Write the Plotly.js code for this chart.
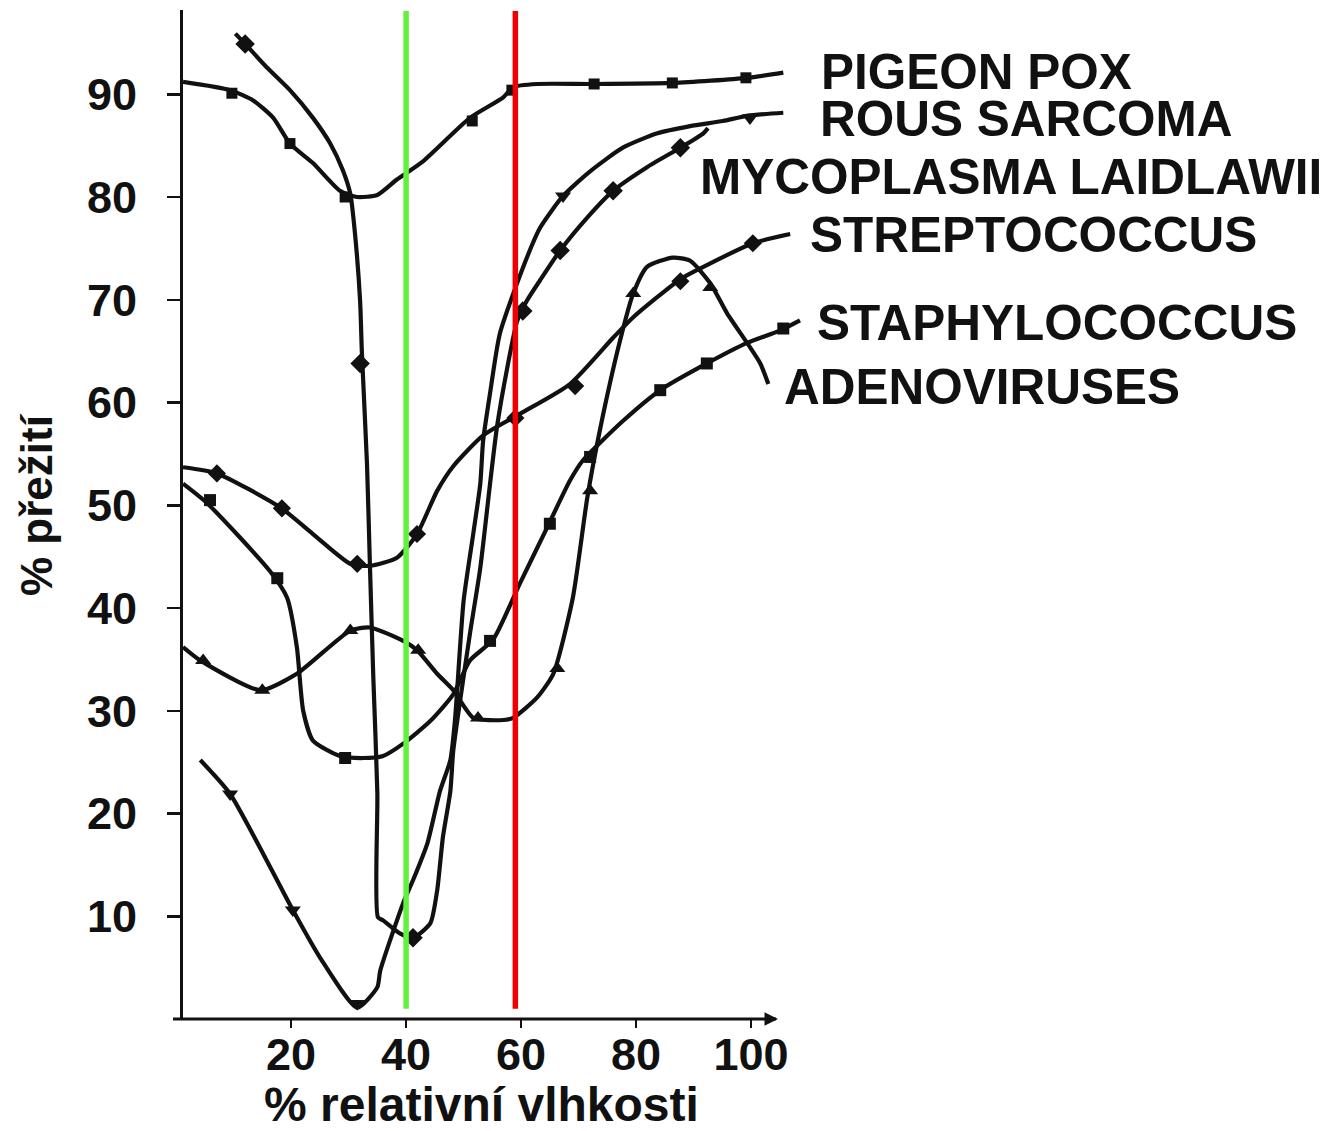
<!DOCTYPE html>
<html>
<head>
<meta charset="utf-8">
<script src="https://cdn.plot.ly/plotly-3.0.1.min.js"></script>
<style>
  html, body { margin: 0; padding: 0; background: #ffffff; }
  #chart { width: 1323px; height: 1131px; }
</style>
</head>
<body>
<div id="chart"></div>
<script>
// ---- data (x = % relative humidity, y = % survival) ----
const pigeonX = [1.2, 9.4, 13.4, 16.9, 19.8, 23.8, 28.5, 31.5, 35, 38.4, 43, 51.1, 56.9, 58.6, 62.8, 72.5, 86.4, 99.3, 105.6];
const pigeonY = [91.2, 90.4, 89.4, 87.7, 85.2, 83.3, 80.6, 80, 80.2, 81.7, 83.5, 87.7, 89.7, 90.7, 91.0, 91.0, 91.1, 91.6, 92.1];
const pigeonMX = [9.7, 19.8, 29.4, 51.5, 58.4, 72.7, 86.3, 99.1];
const pigeonMY = [90.1, 85.2, 80, 87.4, 90.4, 91.0, 91.1, 91.6];

const mycoX = [10.3, 12, 15.8, 19.8, 23.8, 26.8, 29, 30.3, 31.1, 32, 32.3, 33.2, 33.7, 34.3, 35, 35.1, 36, 39, 41.2, 44.2, 45.4, 46.4, 47.7, 48.2, 49.4, 51.1, 52.9, 54.6, 55.8, 57.6, 59.3, 61, 63.3, 66.8, 71.5, 76, 81.9, 87.7, 91.7, 92.5];
const mycoY = [95.9, 94.9, 92.6, 90.4, 87.7, 85.2, 82.6, 80.3, 76.5, 69.9, 65, 54, 44.3, 33.2, 22, 9.9, 9.6, 8.3, 7.9, 9.3, 12.5, 17.7, 22.2, 26.1, 31, 37.5, 43.9, 52.1, 57.6, 63.4, 67.9, 69.9, 71.9, 74.8, 78, 80.6, 82.9, 84.8, 86.2, 86.7];
const mycoMX = [12, 32, 41.2, 60.3, 66.8, 76, 87.7];
const mycoMY = [94.9, 63.8, 7.9, 68.9, 74.8, 80.6, 84.8];

const rousX = [4.2, 9.4, 20.3, 25, 31.5, 35, 35.5, 39.5, 41.2, 43.7, 45.9, 47.7, 48.5, 50, 51.7, 52.9, 53.4, 54.6, 56.3, 60.3, 63.3, 67.3, 72, 77.7, 83.7, 89.4, 95.1, 99.3, 105.6];
const rousY = [25.2, 21.9, 10.6, 6.0, 1.1, 3.1, 4.7, 11.3, 13.5, 17.1, 22.2, 25.2, 29.1, 40.7, 47.3, 52.1, 56.3, 60.9, 66.7, 73.1, 77.0, 80.1, 82.5, 84.8, 86.2, 86.9, 87.4, 87.9, 88.2];
const rousMX = [9.4, 20.3, 31.5, 67.3, 99.8];
const rousMY = [21.9, 10.6, 1.5, 80.1, 87.7];

const strepX = [1.2, 7.1, 18.1, 23.8, 30.3, 33.7, 38.4, 41.9, 45.4, 48.2, 53.4, 59.8, 68.5, 76, 79.5, 87.7, 91.7, 100.3, 106.8];
const strepY = [53.7, 53.1, 49.8, 47.2, 44.3, 44.1, 44.9, 47.2, 51.4, 53.8, 56.8, 58.9, 61.8, 66.3, 68.3, 72, 73.2, 75.5, 76.4];
const strepMX = [7.1, 18.4, 31.5, 41.9, 59, 69.4, 87.7, 100.3];
const strepMY = [53.1, 49.7, 44.3, 47.2, 58.5, 61.6, 71.8, 75.5];

const staphX = [1.2, 5.4, 16.3, 19.3, 21, 22.1, 23.8, 28.5, 32.5, 36, 39.5, 44.2, 48.2, 51.1, 55.1, 59.8, 64.5, 68.5, 70.8, 77.7, 84.2, 92.3, 99.3, 105, 108.5];
const staphY = [52.1, 50.2, 43.6, 41, 36.2, 30, 27.1, 25.6, 25.4, 25.6, 26.8, 29, 31.6, 34.9, 36.9, 42.4, 47.8, 52.4, 54.4, 58.2, 61.2, 63.8, 65.8, 67, 68];
const staphMX = [5.9, 17.6, 29.4, 54.6, 65, 72, 84.2, 92.3, 105.6];
const staphMY = [50.5, 42.9, 25.4, 36.8, 48.2, 54.7, 61.2, 63.8, 67.2];

const adenoX = [1.2, 4.2, 14.6, 21, 30.3, 33.7, 39.5, 41.9, 45.4, 48.2, 51.7, 56.9, 58.6, 62.8, 65.6, 69, 71.5, 73.7, 77.2, 79.5, 81.9, 86.4, 89.4, 92.9, 95.8, 99.3, 101.6, 103];
const adenoY = [36.2, 34.9, 32, 33.6, 37.8, 38.1, 36.8, 35.9, 33.6, 32, 29.3, 29.1, 29.3, 31.3, 33.6, 41, 50.7, 57.3, 66, 70.6, 73.2, 74.1, 73.8, 71.6, 68.7, 65.8, 63.8, 61.8];
const adenoMX = [4.7, 15, 30.3, 42.1, 52.5, 66.3, 72, 79.5, 92.9];
const adenoMY = [34.9, 32, 37.8, 35.9, 29.3, 34.1, 51.4, 70.6, 71.2];

const xTickVals = [20, 40, 60, 80, 100];
const yTickVals = [10, 20, 30, 40, 50, 60, 70, 80, 90];
const greenLineX = 40;
const redLineX = 59;
const seriesLabels = ["PIGEON POX", "ROUS SARCOMA", "MYCOPLASMA LAIDLAWII", "STREPTOCOCCUS", "STAPHYLOCOCCUS", "ADENOVIRUSES"];
const xTitle = "% relativní vlhkosti";
const yTitle = "% přežití";

// ---- layout geometry (pixels of the 1323x1131 page) ----
const W = 1323, H = 1131;
const PL = 183, PR = 810, PT = 10, PB = 1019;   // plot area edges
const xAt0 = 1.2, xPerPx = 1 / 5.75;            // x value at the left edge, units per px
const yPerPx = 1 / 10.275;
const xRange = [xAt0, xAt0 + (PR - PL) * xPerPx];
const yRange = [0, (PB - PT) * yPerPx];
const px2pX = px => (px - PL) / (PR - PL);
const px2pY = py => (PB - py) / (PB - PT);

const INK = '#111111';
const FONT = '"Liberation Sans", Arial, Helvetica, sans-serif';

function curve(x, y, name) {
  return { type: 'scatter', mode: 'lines', x: x, y: y, name: name,
           line: { color: INK, width: 4.2, shape: 'spline', smoothing: 0.6 },
           hoverinfo: 'skip', showlegend: false };
}
function marks(x, y, symbol, size) {
  return { type: 'scatter', mode: 'markers', x: x, y: y,
           marker: { color: INK, symbol: symbol, size: size, line: { width: 0 } },
           cliponaxis: false, hoverinfo: 'skip', showlegend: false };
}

const data = [
  curve(pigeonX, pigeonY, seriesLabels[0]),
  curve(rousX, rousY, seriesLabels[1]),
  curve(mycoX, mycoY, seriesLabels[2]),
  curve(strepX, strepY, seriesLabels[3]),
  curve(staphX, staphY, seriesLabels[4]),
  curve(adenoX, adenoY, seriesLabels[5]),
  marks(pigeonMX, pigeonMY, 'square', 11),
  marks(rousMX, rousMY, 'triangle-down', 14),
  marks(mycoMX, mycoMY, 'diamond', 15),
  marks(strepMX, strepMY, 'diamond', 14),
  marks(staphMX, staphMY, 'square', 12),
  marks(adenoMX, adenoMY, 'triangle-up', 14)
];

const labelPos = [ [819, 72], [818, 118], [698, 176], [808, 234], [815, 323], [782, 387] ];
const annotations = seriesLabels.map((t, i) => ({
  text: t, xref: 'paper', yref: 'paper',
  x: px2pX(labelPos[i][0]), y: px2pY(labelPos[i][1]),
  xanchor: 'left', yanchor: 'middle', showarrow: false,
  font: { family: FONT, size: 49.5, color: INK, weight: 'bold' }
}));
annotations.push({
  text: xTitle, xref: 'paper', yref: 'paper', x: px2pX(481), y: px2pY(1104),
  xanchor: 'center', yanchor: 'middle', showarrow: false,
  font: { family: FONT, size: 48, color: INK, weight: 'bold' }
});
annotations.push({
  text: yTitle, xref: 'paper', yref: 'paper', x: px2pX(37), y: px2pY(505),
  xanchor: 'center', yanchor: 'middle', showarrow: false, textangle: -90,
  font: { family: FONT, size: 44, color: INK, weight: 'bold' }
});
// arrow head at the end of the x axis
annotations.push({
  text: '', xref: 'paper', yref: 'paper', x: px2pX(778), y: 0,
  ax: -14, ay: 0, showarrow: true, arrowhead: 2, arrowsize: 0.9, arrowwidth: 3,
  arrowcolor: INK
});

const shapes = [
  { type: 'line', xref: 'paper', yref: 'paper', x0: px2pX(173), x1: px2pX(776), y0: 0, y1: 0,
    line: { color: INK, width: 3 } },
  { type: 'line', xref: 'x', yref: 'y', x0: greenLineX, x1: greenLineX, y0: 1.0, y1: yRange[1] - 0.1,
    line: { color: '#63f23c', width: 5.5 } },
  { type: 'line', xref: 'x', yref: 'y', x0: redLineX, x1: redLineX, y0: 1.0, y1: yRange[1] - 0.1,
    line: { color: '#f00000', width: 5.5 } }
];

const layout = {
  width: W, height: H,
  margin: { l: PL, r: W - PR, t: PT, b: H - PB, pad: 0 },
  paper_bgcolor: '#ffffff', plot_bgcolor: '#ffffff',
  showlegend: false,
  xaxis: {
    range: xRange, tickmode: 'array', tickvals: xTickVals,
    ticks: 'outside', ticklen: 8, tickwidth: 2.5, tickcolor: INK,
    showline: false, showgrid: false, zeroline: false,
    tickfont: { family: FONT, size: 45, color: INK, weight: 'bold' },
    ticklabelstandoff: -12,
    automargin: false, fixedrange: true
  },
  yaxis: {
    range: yRange, tickmode: 'array', tickvals: yTickVals,
    ticks: 'outside', ticklen: 13, tickwidth: 2.5, tickcolor: INK,
    showline: true, linewidth: 3, linecolor: INK,
    showgrid: false, zeroline: false,
    tickfont: { family: FONT, size: 45, color: INK, weight: 'bold' },
    ticklabelstandoff: 21,
    automargin: false, fixedrange: true
  },
  shapes: shapes,
  annotations: annotations
};

Plotly.newPlot('chart', data, layout, { staticPlot: true, displayModeBar: false });
</script>
</body>
</html>
